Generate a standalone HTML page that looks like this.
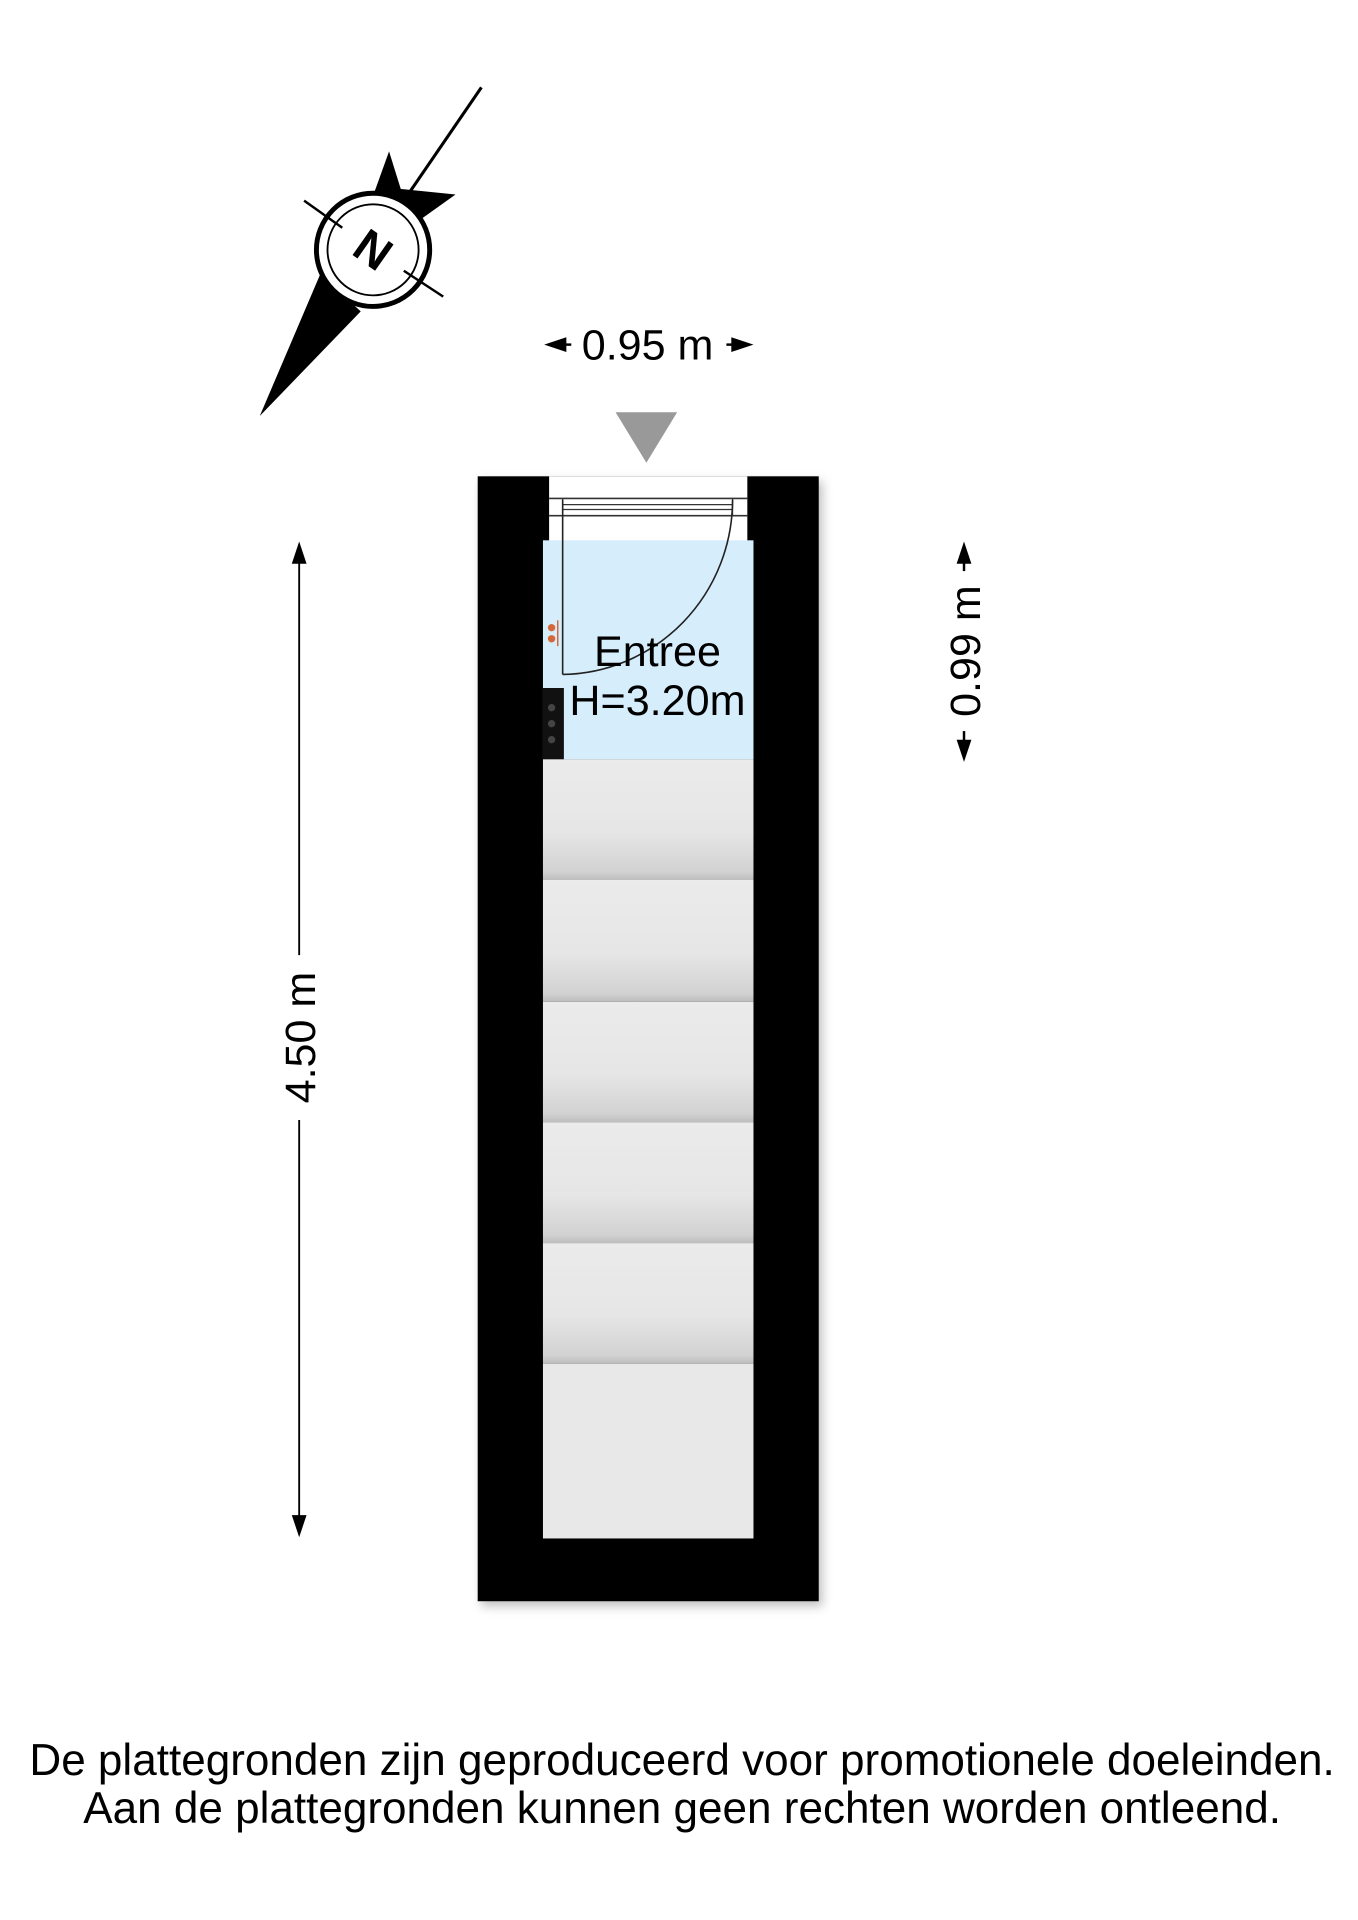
<!DOCTYPE html>
<html><head><meta charset="utf-8"><style>html,body{margin:0;padding:0;background:#fff}svg{display:block}</style></head>
<body>
<svg width="1358" height="1920" viewBox="0 0 1103 1560" preserveAspectRatio="none" xmlns="http://www.w3.org/2000/svg" font-family="Liberation Sans, sans-serif">
<defs>
<linearGradient id="tr" x1="0" y1="0" x2="0" y2="1">
<stop offset="0" stop-color="#ebebeb"/><stop offset="0.6" stop-color="#e6e6e6"/><stop offset="0.93" stop-color="#d2d2d2"/><stop offset="1" stop-color="#bdbdbd"/>
</linearGradient>
<filter id="sh" x="-10%" y="-5%" width="125%" height="110%"><feDropShadow dx="3" dy="4" stdDeviation="4" flood-color="#000" flood-opacity="0.25"/></filter>
</defs>
<g transform="translate(-2 -2)">
<line x1="393" y1="73" x2="330" y2="165" stroke="#000" stroke-width="2.5"/>
<polygon points="318,125 332,170 300,175" fill="#000"/>
<polygon points="372,160 330,190 322,155" fill="#000"/>
<polygon points="213,340 262,225 295,255" fill="#000"/>
<circle cx="305" cy="205" r="46" fill="#fff" stroke="#000" stroke-width="4"/>
<circle cx="305" cy="205" r="37" fill="none" stroke="#000" stroke-width="1.5"/>
<line x1="249" y1="165" x2="280" y2="187" stroke="#000" stroke-width="2"/>
<line x1="330" y1="222" x2="362" y2="243" stroke="#000" stroke-width="2"/>
<text x="305" y="218" font-size="38" font-weight="bold" text-anchor="middle" transform="rotate(35 305 205)">N</text>
<text x="528" y="294" font-size="35" text-anchor="middle">0.95 m</text>
<polygon points="444,282 462,276 462,288" fill="#000"/>
<line x1="460" y1="282" x2="466" y2="282" stroke="#000" stroke-width="2"/>
<polygon points="614,282 596,276 596,288" fill="#000"/>
<line x1="592" y1="282" x2="598" y2="282" stroke="#000" stroke-width="2"/>
<polygon points="502,337 552,337 527,378" fill="#999"/>
<rect x="390" y="389" width="277" height="914" fill="#000" filter="url(#sh)"/>
<rect x="448" y="389" width="161" height="55" fill="#fff"/>
<rect x="443" y="441" width="171" height="178" fill="#d6edfb"/>
<line x1="448" y1="407" x2="609" y2="407" stroke="#333" stroke-width="1.3"/>
<line x1="448" y1="421" x2="609" y2="421" stroke="#333" stroke-width="1.3"/>
<line x1="459" y1="412" x2="597" y2="412" stroke="#333" stroke-width="1"/>
<line x1="459" y1="416" x2="597" y2="416" stroke="#333" stroke-width="1"/>
<line x1="459" y1="407" x2="459" y2="421" stroke="#333" stroke-width="1"/>
<line x1="597" y1="407" x2="597" y2="421" stroke="#333" stroke-width="1"/>
<line x1="459" y1="408" x2="459" y2="550" stroke="#222" stroke-width="1.3"/>
<path d="M459,550 A140,142 0 0 0 597,408" fill="none" stroke="#222" stroke-width="1.3"/>
<circle cx="450" cy="512" r="3" fill="#d4683a"/><circle cx="450" cy="521" r="3" fill="#d4683a"/>
<line x1="455" y1="506" x2="455" y2="527" stroke="#d4683a" stroke-width="1.2"/>
<rect x="443" y="561" width="17" height="58" fill="#111"/>
<circle cx="450" cy="577" r="3" fill="#444"/><circle cx="450" cy="590" r="3" fill="#444"/><circle cx="450" cy="603" r="3" fill="#444"/>
<text x="536" y="543" font-size="35" text-anchor="middle">Entree</text>
<text x="536" y="583" font-size="35" text-anchor="middle">H=3.20m</text>
<rect x="443" y="619" width="171" height="98" fill="url(#tr)"/>
<rect x="443" y="717" width="171" height="99" fill="url(#tr)"/>
<rect x="443" y="816" width="171" height="98" fill="url(#tr)"/>
<rect x="443" y="914" width="171" height="98" fill="url(#tr)"/>
<rect x="443" y="1012" width="171" height="98" fill="url(#tr)"/>
<rect x="443" y="1110" width="171" height="142" fill="#e8e8e8"/>
<line x1="245" y1="455" x2="245" y2="778" stroke="#000" stroke-width="1.5"/>
<line x1="245" y1="912" x2="245" y2="1238" stroke="#000" stroke-width="1.5"/>
<polygon points="245,442 239,460 251,460" fill="#000"/>
<polygon points="245,1251 239,1233 251,1233" fill="#000"/>
<text x="0" y="0" font-size="35" text-anchor="middle" transform="translate(258 845) rotate(-90)">4.50 m</text>
<polygon points="785,442 779,460 791,460" fill="#000"/>
<line x1="785" y1="458" x2="785" y2="466" stroke="#000" stroke-width="2"/>
<polygon points="785,621 779,603 791,603" fill="#000"/>
<line x1="785" y1="596" x2="785" y2="605" stroke="#000" stroke-width="2"/>
<text x="0" y="0" font-size="35" text-anchor="middle" transform="translate(798 531) rotate(-90)">0.99 m</text>
</g>
<text x="554" y="1442" font-size="35.8" text-anchor="middle">De plattegronden zijn geproduceerd voor promotionele doeleinden.</text>
<text x="554" y="1481" font-size="35.8" text-anchor="middle">Aan de plattegronden kunnen geen rechten worden ontleend.</text>
</svg>
</body></html>
